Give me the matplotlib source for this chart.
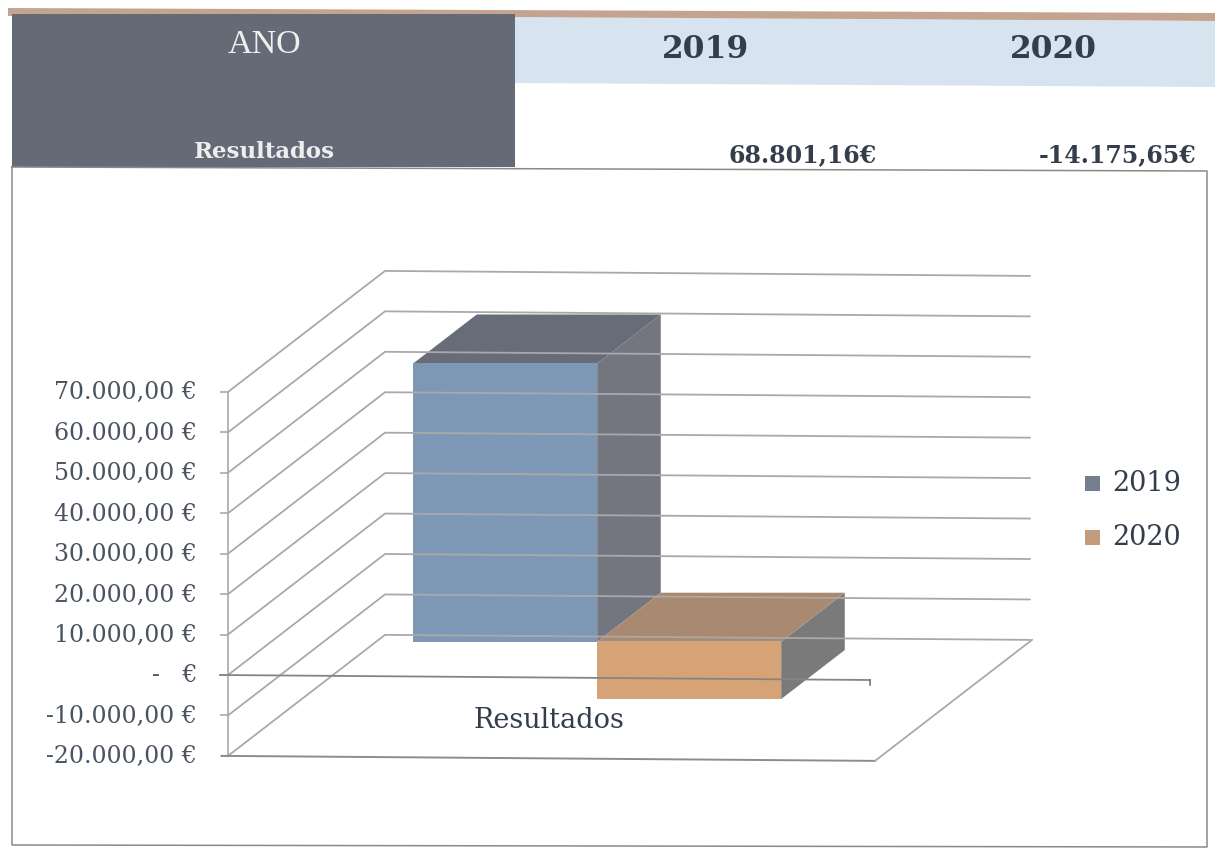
import matplotlib
matplotlib.use("Agg")
import matplotlib.pyplot as plt
from matplotlib.patches import Polygon, Rectangle

# Figures reported in the summary table and plotted below it
years = ["2019", "2020"]
results = [68801.16, -14175.65]
result_labels = ["68.801,16€", "-14.175,65€"]
row_header = "ANO"
row_name = "Resultados"
tick_values = [70000, 60000, 50000, 40000, 30000, 20000, 10000, 0, -10000, -20000]
tick_labels = ["70.000,00 €", "60.000,00 €", "50.000,00 €", "40.000,00 €", "30.000,00 €",
               "20.000,00 €", "10.000,00 €", "-   €", "-10.000,00 €", "-20.000,00 €"]

W, H = 1215, 854
SERIF = "DejaVu Serif"
INK = "#333d4b"
LABEL = "#4a5360"
GRID = "#a9a9a9"

fig = plt.figure(figsize=(W / 100, H / 100), dpi=100, facecolor="white")

# Table layer, measured in figure pixels from the top left
tb = fig.add_axes([0, 0, 1, 1])
tb.set_xlim(0, W)
tb.set_ylim(H, 0)
tb.axis("off")
tb.add_patch(Polygon([(8, 9), (1215, 14), (1215, 22), (8, 17)], fc="#c4a48e", ec="none"))
tb.add_patch(Rectangle((12, 15), 503, 153, fc="#646a76", ec="none"))
tb.add_patch(Polygon([(515, 18), (1215, 22), (1215, 88), (515, 84)], fc="#d8e3f0", ec="none"))
tb.plot([12, 1207, 1207, 12, 12], [168, 172, 848, 846, 168], color="#8a8a8a", lw=1.1)
tb.text(264, 45, row_header, color="#eeeeee", family="Liberation Serif", fontsize=24.5,
        ha="center", va="center")
tb.text(264, 152, row_name, color="#eeeeee", family=SERIF, fontsize=16.5, weight="bold",
        ha="center", va="center")
for x, year in zip([706, 1053], years):
    tb.text(x, 49, year, color=INK, family=SERIF, fontsize=22.5, weight="bold", ha="center", va="center")
for x, label in zip([877, 1197], result_labels):
    tb.text(x, 155, label, color=INK, family=SERIF, fontsize=17, weight="bold", ha="right", va="center")

# Chart layer: the y axis is in euros and x runs across the figure width
PX_PER_EURO = 40.44 / 10000
ZERO_ROW = 676
ax = fig.add_axes([0, 0, 1, 1])
ax.patch.set_alpha(0)
ax.set_xlim(0, W)
ax.set_ylim((ZERO_ROW - H) / PX_PER_EURO, ZERO_ROW / PX_PER_EURO)
ax.axis("off")

DEPTH_X = 157
DEPTH_Y = 121 / PX_PER_EURO
TILT = 5 / PX_PER_EURO  # slight downward slope of the wall rules


def project(x, value, depth):
    """Oblique projection: depth 0 is the front of the box, depth 1 the back wall."""
    return x + depth * DEPTH_X, value + depth * DEPTH_Y


def face(corners, **style):
    ax.add_patch(Polygon([project(*c) for c in corners], ec="none", **style))


# Back wall rules with their receding left edges
WALL_LEFT = 228
WALL_SPAN = 645
for v in tick_values:
    x0, y0 = project(WALL_LEFT, v, 0)
    x1, y1 = project(WALL_LEFT, v, 1)
    ax.plot([x0, x1, x1 + WALL_SPAN], [y0, y1, y1 - TILT], color=GRID, lw=1.3, solid_capstyle="round")

# Vertical axis, ticks and labels
ax.plot([WALL_LEFT, WALL_LEFT], [tick_values[0], tick_values[-1]], color=GRID, lw=1.2)
for v, label in zip(tick_values, tick_labels):
    ax.plot([WALL_LEFT - 7, WALL_LEFT], [v, v], color=GRID, lw=1.2)
    ax.text(197, v, label, color=LABEL, family=SERIF, fontsize=17, ha="right", va="center")

# Floor outline
floor = tick_values[-1]
ax.plot([WALL_LEFT - 6, 875], [floor, floor - TILT], color="#8c8c8c", lw=1.4)
ax.plot([875, 875 + DEPTH_X], [floor - TILT, floor + DEPTH_Y - TILT], color=GRID, lw=1.3)

# Zero line across the floor with its end tick
ax.plot([WALL_LEFT - 8, 870], [0, -TILT], color="#858585", lw=1.3)
ax.plot([870, 870], [-TILT, -TILT - 5 / PX_PER_EURO], color="#777777", lw=1.2)

# 3D columns: each has a front, a top and a side face
BAR_LEFT = [370, 554]
BAR_WIDTH = 184
D0, D1 = 0.275, 0.68
FRONT = ["#7e97b4", "#d6a377"]
TOP = ["#676c78", "#a98a70"]
SIDE = ["#73767f", "#7a7a7a"]
for left, value, fc, tc, sc in zip(BAR_LEFT, results, FRONT, TOP, SIDE):
    right = left + BAR_WIDTH
    hi, lo = max(value, 0), min(value, 0)
    face([(right, lo, D0), (right, lo, D1), (right, hi, D1), (right, hi, D0)], fc=sc)
    face([(left, hi, D0), (left, hi, D1), (right, hi, D1), (right, hi, D0)], fc=tc)
    face([(left, lo, D0), (right, lo, D0), (right, hi, D0), (left, hi, D0)], fc=fc)

ax.text(549, -10900, row_name, color=INK, family=SERIF, fontsize=19.5, ha="center", va="center")

# Legend
for y, year, color in zip([484, 538], years, ["#757f90", "#c29c7d"]):
    tb.add_patch(Rectangle((1085, y - 7), 15, 15, fc=color, ec="none", zorder=1))
    tb.text(1112, y, year, color=INK, family=SERIF, fontsize=19.5, ha="left", va="center")

fig.savefig("out.png", dpi=100, facecolor="white")
